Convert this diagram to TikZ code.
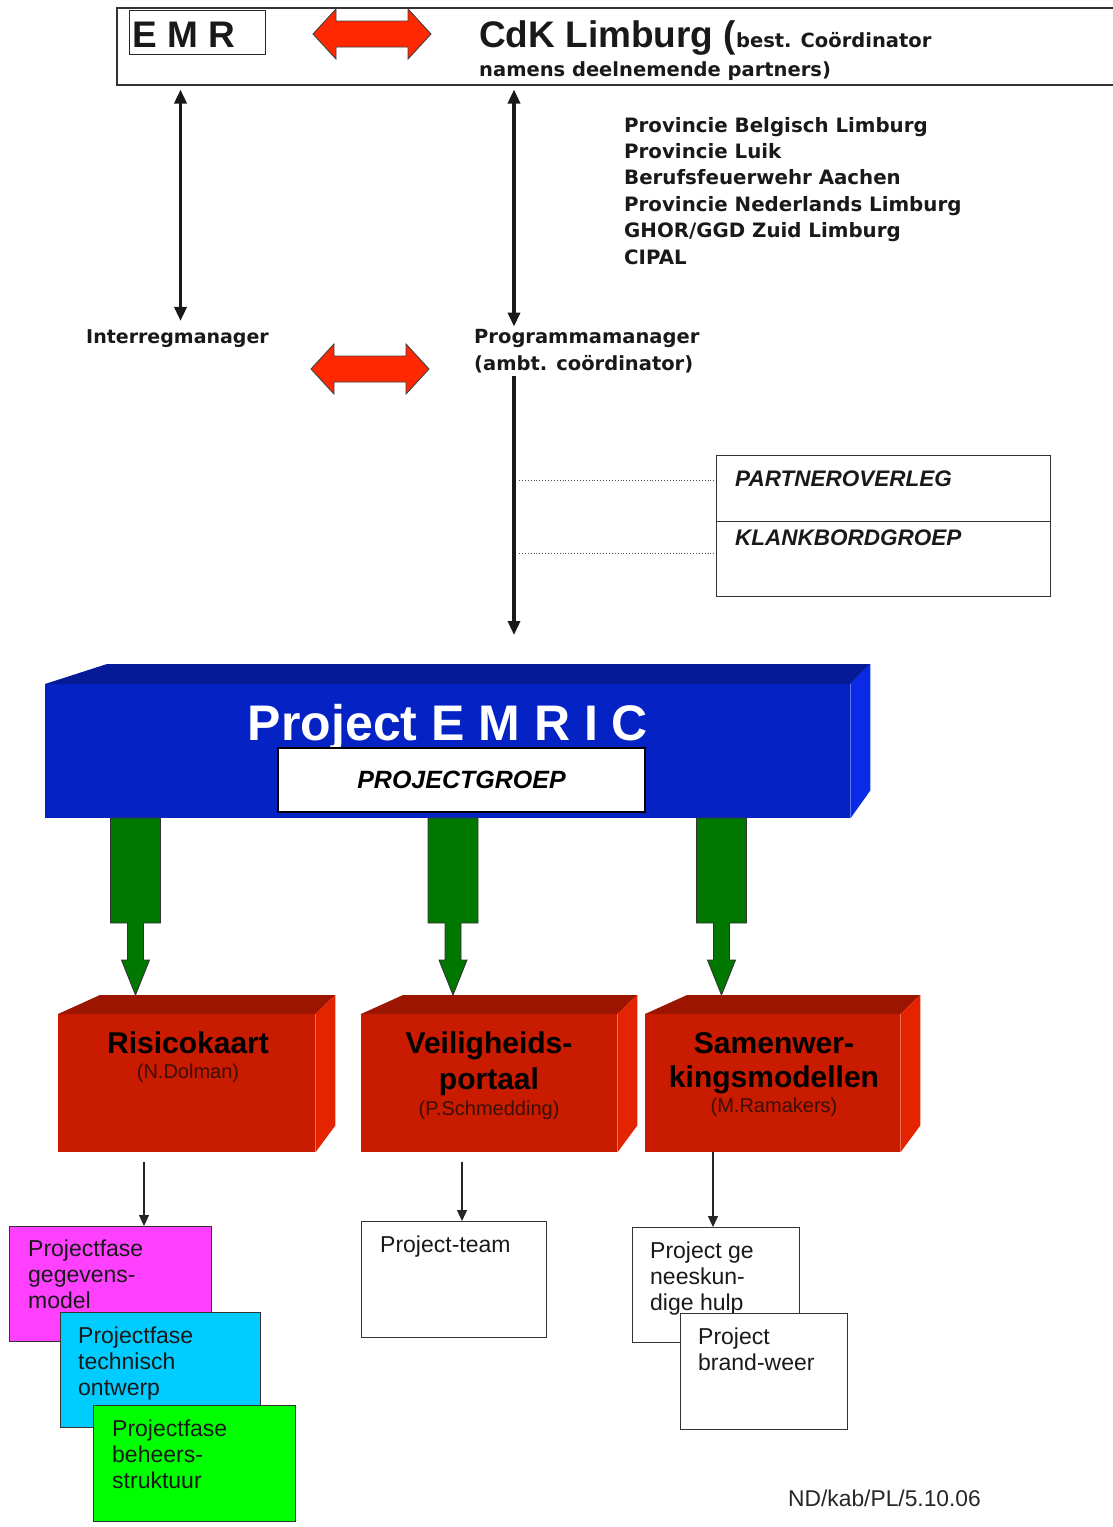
\documentclass[tikz,border=0pt]{standalone}
\usepackage{fontspec}
\setmainfont{Liberation Sans}
\newfontfamily\verd{DejaVu Sans}
\usetikzlibrary{arrows.meta}

\definecolor{arrowred}{RGB}{255,40,0}
\definecolor{emricfront}{RGB}{5,34,196}
\definecolor{emrictop}{RGB}{4,26,150}
\definecolor{emricside}{RGB}{10,42,230}
\definecolor{wpfront}{RGB}{200,27,0}
\definecolor{wptop}{RGB}{155,21,0}
\definecolor{wpside}{RGB}{228,36,0}
\definecolor{pijlgroen}{RGB}{0,120,0}
\definecolor{fasemagenta}{RGB}{255,64,255}
\definecolor{fasecyaan}{RGB}{0,204,255}
\definecolor{fasegroen}{RGB}{0,255,0}
\definecolor{naamkleur}{RGB}{60,15,5}

\begin{document}
\begin{tikzpicture}[x=1pt,y=-1pt,
    verdtekst/.style={font=\verd\bfseries\fontsize{19.8}{26.4}\selectfont, inner sep=0, anchor=base west, align=left, text=black!90},
    lijst/.style={draw=black!80, line width=1.2pt, anchor=north west, inner sep=0},
    fasetekst/.style={font=\fontsize{23}{26}\selectfont, inner sep=0, anchor=base west, align=left, text=black!90},
    wptitel/.style={font=\bfseries\fontsize{30}{35}\selectfont, inner sep=0, anchor=base, align=center},
    wpnaam/.style={font=\fontsize{20}{24}\selectfont, inner sep=0, anchor=base, text=naamkleur},
    wpfrontvlak/.style={fill=wpfront, anchor=north west, inner sep=0, minimum height=138},
    overleg/.style={font=\bfseries\itshape\fontsize{22.5}{26}\selectfont, inner sep=0, anchor=base west, text=black!90},
    zwartpijl/.style={{Triangle[length=14pt,width=12pt]}-{Triangle[length=14pt,width=12pt]}, line width=3.4pt, black!90},
    dunpijl/.style={-{Triangle[length=11pt,width=10pt]}, line width=1.1pt, black!85},
    stippel/.style={dotted, line width=0.9pt, black!70},
    rodepijl/.pic={\filldraw[fill=arrowred, draw=black!75, line width=0.9pt] (-59,0) -- (-36,-25) -- (-36,-13) -- (36,-13) -- (36,-25) -- (59,0) -- (36,25) -- (36,13) -- (-36,13) -- (-36,25) -- cycle;},
    groenepijl/.pic={\filldraw[fill=pijlgroen, draw=black!80, line width=0.9pt] (-25,0) -- (25,0) -- (25,105) -- (8,105) -- (8,142) -- (14,142) -- (0,177) -- (-14,142) -- (-8,142) -- (-8,105) -- (-25,105) -- cycle;}
]
\useasboundingbox (0,0) rectangle (1112,1527);

% kop
\node[draw=black!80, line width=1.5pt, minimum width=1010, minimum height=77, anchor=north west, inner sep=0] (cdk) at (116,7) {};
\node[draw=black!85, line width=1pt, minimum width=136, minimum height=44, anchor=north west, inner sep=0] (emr) at (129,10) {};
\node[font=\bfseries\fontsize{37}{40}\selectfont, inner sep=0, anchor=base west, text=black!90] (emrtxt) at (132,47) {E M R};
\pic at (372,34) {rodepijl};
\node[font=\bfseries\fontsize{37}{40}\selectfont, inner sep=0, anchor=base west, text=black!90] (cdktxt) at (479,47) {CdK Limburg (\verd\fontsize{19.5}{22}\selectfont best. Coördinator};
\node[verdtekst, font=\verd\bfseries\fontsize{19.5}{26}\selectfont] (namens) at (479,76) {namens deelnemende partners)};

% partners (base = laatste regel)
\node[verdtekst] (partners) at (624,264) {Provincie Belgisch Limburg\\Provincie Luik\\Berufsfeuerwehr Aachen\\Provincie Nederlands Limburg\\GHOR/GGD Zuid Limburg\\CIPAL};

% managers
\node[verdtekst, font=\verd\bfseries\fontsize{19}{26}\selectfont] (interreg) at (86,343) {Interregmanager};
\node[verdtekst, font=\verd\bfseries\fontsize{19.5}{27}\selectfont] (progman) at (474,370) {Programmamanager\\(ambt. coördinator)};
\pic at (370,369) {rodepijl};
\coordinate (spil) at (514,0);

% overleg
\node[lijst, minimum width=334, minimum height=66] (partner) at (716,455) {};
\node[lijst, minimum width=334, minimum height=75] (klank) at (716,521) {};
\node[overleg] (partnertxt) at (735,486) {PARTNEROVERLEG};
\node[overleg] (klanktxt) at (735,545) {KLANKBORDGROEP};

% project emric
\node[fill=emricfront, minimum width=805, minimum height=134, anchor=north west, inner sep=0] (emric) at (45,684) {};
\fill[emrictop] (emric.north west) -- ++(62,-20) -- ([shift={(20,-20)}]emric.north east) -- (emric.north east) -- cycle;
\fill[emricside] (emric.north east) -- ++(20,-20) -- ([shift={(20,-28)}]emric.south east) -- (emric.south east) -- cycle;
\node[font=\bfseries\fontsize{50}{56}\selectfont, text=white, inner sep=0, anchor=base] (emrictxt) at (448,740) {Project E M R I C};
\node[draw=black, line width=1.2pt, fill=white, minimum width=367, minimum height=64, inner sep=0, font=\bfseries\itshape\fontsize{25}{30}\selectfont] (pgroep) at (461.5,780) {PROJECTGROEP};

% pijlen boven
\draw[zwartpijl] ([xshift=3pt,yshift=-4pt]interreg.north |- cdk.south) -- ([xshift=3pt,yshift=8pt]interreg.north);
\draw[zwartpijl] ([yshift=-4pt]spil |- cdk.south) -- ([yshift=2pt]spil |- progman.north);
\draw[-{Triangle[length=14pt,width=12pt]}, line width=3.4pt, black!90] ([yshift=-3pt]spil |- progman.south) -- ([yshift=49pt]spil |- emric.north);
\draw[stippel] ([xshift=5pt]spil |- 0,480) -- (partner.west |- 0,480);
\draw[stippel] ([xshift=5pt]spil |- 0,553) -- (partner.west |- 0,553);

% werkpakketten
\node[wpfrontvlak, minimum width=257] (risico) at (58,1014) {};
\node[wpfrontvlak, minimum width=256] (veilig) at (361,1014) {};
\node[wpfrontvlak, minimum width=255] (samen) at (645,1014) {};
\fill[wptop] (risico.north west) -- ++(42,-19) -- ([shift={(20,-19)}]risico.north east) -- (risico.north east) -- cycle;
\fill[wpside] (risico.north east) -- ++(20,-19) -- ([shift={(20,-27)}]risico.south east) -- (risico.south east) -- cycle;
\fill[wptop] (veilig.north west) -- ++(42,-19) -- ([shift={(20,-19)}]veilig.north east) -- (veilig.north east) -- cycle;
\fill[wpside] (veilig.north east) -- ++(20,-19) -- ([shift={(20,-27)}]veilig.south east) -- (veilig.south east) -- cycle;
\fill[wptop] (samen.north west) -- ++(42,-19) -- ([shift={(20,-19)}]samen.north east) -- (samen.north east) -- cycle;
\fill[wpside] (samen.north east) -- ++(20,-19) -- ([shift={(20,-27)}]samen.south east) -- (samen.south east) -- cycle;
\node[wptitel] (risicotxt) at (188,1053) {Risicokaart};
\node[wpnaam] (dolman) at (188,1078) {(N.Dolman)};
\node[wptitel, font=\bfseries\fontsize{30}{36}\selectfont] (veiligtxt) at (489,1089) {Veiligheids-\\portaal};
\node[wpnaam] (schmedding) at (489,1115) {(P.Schmedding)};
\node[wptitel, font=\bfseries\fontsize{30}{34}\selectfont] (samentxt) at (774,1087) {Samenwer-\\kingsmodellen};
\node[wpnaam] (ramakers) at (774,1112) {(M.Ramakers)};

% groene pijlen
\pic at (135.5,818) {groenepijl};
\pic at (453,818) {groenepijl};
\pic at (721.5,818) {groenepijl};

% projectfasen (base = laatste regel)
\node[lijst, fill=fasemagenta, minimum width=202, minimum height=115] (fase1) at (9,1226) {};
\node[fasetekst] (fase1txt) at (28,1308) {Projectfase\\gegevens-\\model};
\node[lijst, fill=fasecyaan, minimum width=200, minimum height=115] (fase2) at (60,1312) {};
\node[fasetekst] (fase2txt) at (78,1395) {Projectfase\\technisch\\ontwerp};
\node[lijst, fill=fasegroen, minimum width=202, minimum height=116] (fase3) at (93,1405) {};
\node[fasetekst] (fase3txt) at (112,1488) {Projectfase\\beheers-\\struktuur};
\node[lijst, minimum width=185, minimum height=116] (team) at (361,1221) {};
\node[fasetekst] (teamtxt) at (380,1252) {Project-team};
\node[lijst, fill=white, minimum width=167, minimum height=115] (ghor) at (632,1227) {};
\node[fasetekst] (ghortxt) at (650,1310) {Project ge\\neeskun-\\dige hulp};
\node[lijst, fill=white, minimum width=167, minimum height=116] (brand) at (680,1313) {};
\node[fasetekst] (brandtxt) at (698,1370) {Project\\brand-weer};

\draw[dunpijl] ([yshift=-10pt]risico.south -| 144,0) -- (fase1.north -| 144,0);
\draw[dunpijl] ([yshift=-10pt]veilig.south -| 462,0) -- (team.north -| 462,0);
\draw[dunpijl] (samen.south -| 713,0) -- (ghor.north -| 713,0);

\node[font=\fontsize{22.8}{26}\selectfont, inner sep=0, anchor=base west, text=black!85] (datum) at (788,1506) {ND/kab/PL/5.10.06};
\end{tikzpicture}
\end{document}
